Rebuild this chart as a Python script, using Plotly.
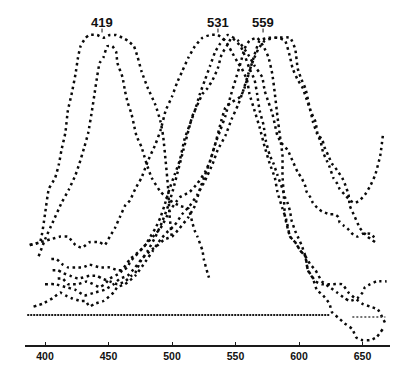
import plotly.graph_objects as go

# Wavelength (nm) and relative absorbance (% of peak)
blue1_wl = [388,396,400,403,408,411,413,416,418,421,424,426,428,432,435,441,446,451,456,461,465,470,473,476,481,487,491,493,495,497,498,500]
blue1_ab = [25,26,36,45,49,54,59,65,73,79,86,92,96,99,100,100,99,100,100,99,98,96,92,87,81,75,69,64,55,45,36,27]

blue2_wl = [395,400,406,413,419,424,427,431,434,437,439,441,443,446,449,453,456,457,461,463,465,468,470,472,476,478,480,484,491,498,506,513,516,518,520,524,525,528,530]
blue2_ab = [21,27,33,40,45,50,54,60,65,73,79,85,90,92,96,96,94,90,85,80,76,72,68,64,60,57,54,49,44,41,39,38,33,30,28,23,20,15,12]

green1_wl = [388,396,404,412,418,424,429,435,443,447,451,455,459,463,467,471,476,481,487,491,495,500,504,508,513,518,524,530,536,542,547,552,555,559,561,565,569,573,577,581,583,587,590,593,597,601,605,607,610,613,618,626,634,639,644,650,656,662,668]
green1_ab = [25,26,27,28,28,25,24,26,26,25,28,31,35,39,41,45,49,55,61,66,73,78,83,87,92,96,99,100,100,98,94,90,88,84,79,73,67,60,54,49,44,38,34,28,26,23,21,16,14,12,11,11,11,8,6,4,3,2,-3]

green2_wl = [405,409,414,418,424,430,435,443,451,457,461,465,467,471,475,479,483,487,491,494,498,502,506,510,514,518,522,526,530,534,538,544,552,560,565,571,573,576,579,581,583,587,591,593,595,599,602,605,606,609,611,615,618,624,628,631,632,635,638,642,646,650,656,661]
green2_ab = [20,20,18,17,17,17,18,17,17,16,16,17,19,21,23,25,28,31,35,39,45,50,55,63,68,73,79,84,89,94,97,100,98,93,89,85,80,76,72,68,64,61,59,57,55,51,49,46,44,42,40,38,37,36,36,35,33,32,31,29,28,29,29,27]

green3_wl = [406,410,414,420,426,435,441,445,451,457,463,468,471,475,481,487,492,497,501,505,509,513,516,520,524,528,532,536,539,543,547,554,557,561,565,567,569,572,574,577,580,583,587,589,591,593,594,597,599,602,605,607,611,614,619,624,626,631,636,642,645,650,656,661,666]
green3_ab = [16,16,15,14,13,14,14,13,12,11,12,14,15,19,23,28,33,39,45,52,59,66,71,75,79,81,84,88,93,96,99,96,93,88,84,79,73,68,62,57,54,50,45,42,40,37,34,30,28,25,21,16,13,9,7,4,1,-1,-3,-5,-8,-9,-9,-8,-5]

red1_wl = [410,414,418,422,426,433,443,447,451,459,467,475,483,491,498,506,514,520,526,530,534,538,542,547,554,557,561,565,569,576,583,589,593,595,599,603,606,609,611,614,617,619,622,624,627,630,632,636,640,644,648,652,656,660,664,666]
red1_ab = [13,13,11,11,11,12,10,11,13,15,20,23,27,31,37,42,44,47,51,55,61,68,74,76,78,81,87,93,98,99,99,98,92,88,84,81,77,73,69,65,62,58,55,53,49,47,45,43,41,40,41,43,46,50,57,64]

red2_wl = [391,398,406,412,416,421,428,432,435,439,446,454,457,463,471,479,485,491,497,502,508,514,520,526,532,536,542,547,552,556,560,564,568,573,581,593,597,599,602,605,607,609,613,615,618,620,623,626,628,631,634,636,639,640,644,648,654,660]
red2_ab = [3,4,6,8,7,6,5,5,3,4,5,8,10,11,14,19,23,27,30,32,36,39,43,48,54,59,64,70,75,80,86,91,95,98,99,99,95,88,84,81,77,73,69,64,63,60,57,54,53,51,49,47,43,39,35,31,28,26]

red3_wl = [400,408,416,424,431,439,447,454,459,465,471,476,483,489,494,500,506,513,518,522,526,530,534,538,542,546,550,554,557,561,567,572,576,579,581,583,585,587,587,588,589,593,597,601,605,609,613,618,624,630,636,640,646,650,652,656,661,669]
red3_ab = [11,11,10,9,7,8,9,11,13,14,17,20,23,25,27,28,31,35,39,45,50,55,61,66,71,78,84,90,95,98,99,96,92,86,79,71,64,57,50,43,35,28,26,23,21,18,16,12,10,8,6,5,6,8,10,11,12,12]

baseline_wl = [386, 624]
baseline_ab = [0, 0]
baseline2_wl = [642, 668]
baseline2_ab = [-0.7, -0.7]

peak_labels = ["419", "531", "559"]
peak_label_wl = [444.9, 536.2, 571.7]

tick_vals = [400, 450, 500, 550, 600, 650]
tick_text = ["400", "450", "500", "550", "600", "650"]

curves = [
    (blue1_wl, blue1_ab), (blue2_wl, blue2_ab),
    (green1_wl, green1_ab), (green2_wl, green2_ab), (green3_wl, green3_ab),
    (red1_wl, red1_ab), (red2_wl, red2_ab), (red3_wl, red3_ab),
]

fig = go.Figure()
for wl, ab in curves:
    fig.add_trace(go.Scatter(
        x=wl, y=ab, mode="lines",
        line=dict(color="#0a0a0a", width=2.5, dash="2.5px,3.5px", shape="spline", smoothing=0.4),
        hoverinfo="skip", showlegend=False))

fig.add_trace(go.Scatter(x=baseline_wl, y=baseline_ab, mode="lines",
                         line=dict(color="#1a1a1a", width=2, dash="2px,1px"),
                         hoverinfo="skip", showlegend=False))
fig.add_trace(go.Scatter(x=baseline2_wl, y=baseline2_ab, mode="lines",
                         line=dict(color="#444", width=1.5, dash="2px,2px"),
                         hoverinfo="skip", showlegend=False))

for lab, wl in zip(peak_labels, peak_label_wl):
    fig.add_annotation(x=wl, y=104.6, text=lab, showarrow=False,
                       font=dict(family="Liberation Sans Narrow, Arial Narrow, Liberation Sans",
                                 size=13, color="#111", weight="bold"))
    fig.add_shape(type="line", x0=wl, x1=wl, y0=100.9, y1=102.3,
                  line=dict(color="#111", width=1))

fig.update_layout(
    width=397, height=372,
    margin=dict(l=25, r=7, t=0, b=27),
    paper_bgcolor="white", plot_bgcolor="white",
    xaxis=dict(range=[384.25, 671.65], showgrid=False, zeroline=False,
               showline=True, linecolor="#1a1a1a", linewidth=2,
               ticks="inside", ticklen=3, tickcolor="#1a1a1a",
               tickvals=tick_vals, ticktext=tick_text,
               tickfont=dict(family="Liberation Sans, Arial", size=10.5, color="#111", weight="bold")),
    yaxis=dict(range=[-10.71, 112.5], visible=False, showgrid=False, zeroline=False),
)

fig.write_html("out.html")
